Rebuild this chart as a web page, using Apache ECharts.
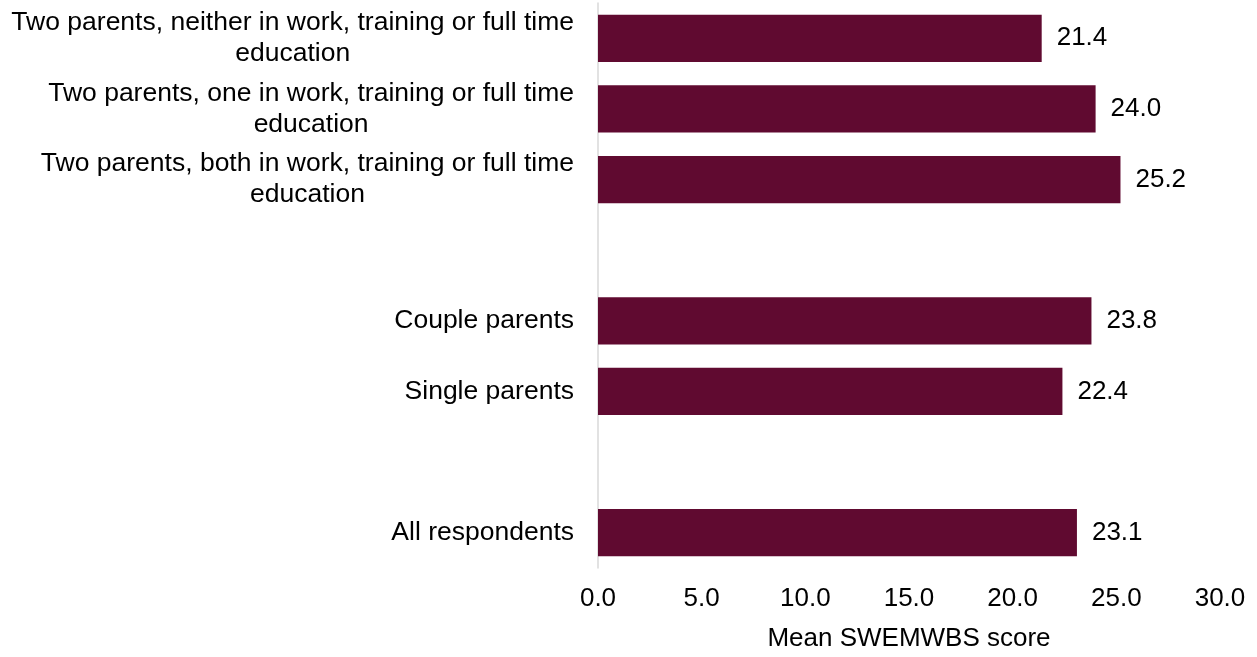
<!DOCTYPE html>
<html>
<head>
<meta charset="utf-8">
<script src="https://cdn.jsdelivr.net/npm/echarts@6/dist/echarts.min.js"></script>
<style>
html,body{margin:0;padding:0;background:#fff;}
#chart{width:1257px;height:657px;}
</style>
</head>
<body>
<div id="chart"></div>
<script>
// Categories listed top to bottom ('' / ' ' are spacer rows)
var categories = [
  'Two parents, neither in work, training or full time\neducation',
  'Two parents, one in work, training or full time\neducation',
  'Two parents, both in work, training or full time\neducation',
  '',
  'Couple parents',
  'Single parents',
  ' ',
  'All respondents'
];
var meanScores = [21.4, 24.0, 25.2, '-', 23.8, 22.4, '-', 23.1];
var xTicks = { min: 0, max: 30, interval: 5 };
var xAxisTitle = 'Mean SWEMWBS score';

var FONT = "'Liberation Sans', Arial, sans-serif";
var chart = echarts.init(document.getElementById('chart'), null, { renderer: 'canvas' });
chart.setOption({
  animation: false,
  backgroundColor: '#ffffff',
  grid: { left: 598, right: 37, top: 3, bottom: 85, containLabel: false },
  xAxis: {
    type: 'value',
    min: xTicks.min, max: xTicks.max, interval: xTicks.interval,
    axisLine: { show: false },
    axisTick: { show: false },
    splitLine: { show: false },
    axisLabel: {
      margin: 18,
      color: '#000000',
      fontSize: 26,
      fontFamily: FONT,
      formatter: function (v) { return v.toFixed(1); }
    },
    name: xAxisTitle,
    nameLocation: 'middle',
    nameGap: 58,
    nameTextStyle: { color: '#000000', fontSize: 26, fontFamily: FONT }
  },
  yAxis: {
    type: 'category',
    data: categories,
    inverse: true,
    axisLine: { show: true, lineStyle: { color: '#d9d9d9', width: 1.5 } },
    axisTick: { show: false },
    splitLine: { show: false },
    axisLabel: {
      margin: 24,
      color: '#000000',
      fontSize: 26.5,
      fontFamily: FONT,
      lineHeight: 31,
      interval: 0,
      formatter: function (v) { return v.trim() ? '{c|' + v + '}' : ''; },
      rich: {
        c: { align: 'center', fontSize: 26.5, lineHeight: 31, fontFamily: FONT, color: '#000000' }
      }
    }
  },
  series: [{
    type: 'bar',
    data: meanScores,
    barWidth: '67%',
    itemStyle: { color: '#600a30' },
    label: {
      show: true,
      position: 'right',
      distance: 15,
      color: '#000000',
      fontSize: 26,
      fontFamily: FONT,
      formatter: function (p) { return Number(p.value).toFixed(1); }
    }
  }]
});
</script>
</body>
</html>
